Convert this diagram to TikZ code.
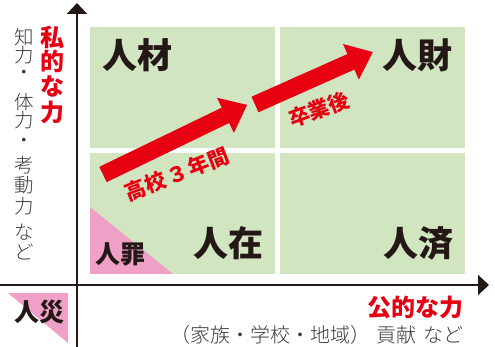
\documentclass[tikz,border=0pt]{standalone}
\usepackage{fontspec}
\newfontfamily\jp{Noto Sans CJK JP}
\IfFontExistsTF{Noto Sans CJK JP Light}{\newfontfamily\jpl{Noto Sans CJK JP Light}}{\newfontfamily\jpl{Noto Sans CJK JP}}
\usetikzlibrary{arrows.meta}
\definecolor{qgreen}{RGB}{209,230,192}
\definecolor{qpink}{RGB}{239,160,198}
\definecolor{qred}{RGB}{230,0,18}
\definecolor{qblack}{RGB}{35,24,21}
\definecolor{qgray}{RGB}{62,58,57}
\tikzset{
  quad/.style={fill=qgreen, draw=none},
  pinktri/.style={fill=qpink, draw=none},
  axis/.style={draw=qblack, line width=2pt, -{Triangle[width=20pt,length=11pt]}},
  bigfat/.style={fill=qred, draw=none},
  biglabel/.style={font=\jp\bfseries\fontsize{35}{35}\selectfont, text=qblack, inner sep=0pt},
  midlabel/.style={font=\jp\bfseries\fontsize{25}{25}\selectfont, text=qblack, inner sep=0pt},
  redlabel/.style={font=\jp\bfseries\fontsize{24}{24}\selectfont, text=qred, inner sep=0pt},
  arrowlabel/.style={font=\jp\bfseries\fontsize{21}{21}\selectfont, text=qred, inner sep=0pt},
  graylabel/.style={font=\jpl\fontsize{19.5}{19.5}\selectfont, text=qgray, inner sep=0pt},
  graysmall/.style={font=\jpl\fontsize{20}{20}\selectfont, text=qgray, inner sep=0pt}
}
\begin{document}
\begin{tikzpicture}[x=1pt,y=-1pt]
\useasboundingbox (0,0) rectangle (495,347);
% quadrants
\fill[quad] (90,27) rectangle (275,148);
\fill[quad] (280,27) rectangle (465,148);
\fill[quad] (90,153) rectangle (275,274);
\fill[quad] (280,153) rectangle (465,274);
\fill[pinktri] (90,207) -- (90,274) -- (173,274) -- cycle;
\fill[pinktri] (8,293) -- (68,293) -- (68,343) -- cycle;
% axes
\coordinate (xs) at (0,285);
\coordinate (xe) at (489,285);
\coordinate (ys) at (77,347);
\coordinate (ye) at (77,3);
\draw[axis] (xs) -- (xe);
\draw[axis] (ys) -- (ye);
% fat arrows
\begin{scope}[shift={(103,174.5)}, rotate=25.8]
\fill[bigfat] (0,-8.5) -- (136,-8.5) -- (136,-19.5) -- (160,0) -- (136,19.5) -- (136,8.5) -- (0,8.5) -- cycle;
\end{scope}
\begin{scope}[shift={(255,104.5)}, rotate=24]
\fill[bigfat] (0,-8.5) -- (105,-8.5) -- (105,-19.5) -- (129,0) -- (105,19.5) -- (105,8.5) -- (0,8.5) -- cycle;
\end{scope}
% quadrant labels
\node[biglabel] (jinzai1) at (137,55) {人材};
\node[biglabel] (jinzai2) at (417,55) {人財};
\node[biglabel] (jinzai3) at (228,243) {人在};
\node[biglabel] (jinzai4) at (418,243) {人済};
\node[midlabel] (jinzai5) at (120,254) {人罪};
\node[midlabel] (jinsai) at (39,312) {人災};
% arrow labels
\node[arrowlabel, rotate=21] (koukou) at (177,174) {高校\hspace{0.1em}３\hspace{0.1em}年間};
\node[arrowlabel, rotate=20] (sotsugyo) at (319,109.5) {卒業後};
% horizontal axis labels
\node[redlabel, anchor=east] (koteki) at (464,307) {公的な力};
\node[graysmall, anchor=east] (kouken) at (464,335) {（家族・学校・地域）\hspace{0.3em}貢献\hspace{0.35em}など};
% vertical red label
\foreach \c/\yy [count=\i] in {私/37,的/61,な/86,力/112}
  \node[redlabel] (sv\i) at (52,\yy) {\c};
% vertical gray label
\foreach \c/\yy [count=\i] in {知/37.5,力/55,・/75,体/102,力/120,・/142.5,考/165,動/185,力/206,な/232,ど/252}
  \node[graylabel] (gv\i) at (24,\yy) {\c};
\end{tikzpicture}
\end{document}
